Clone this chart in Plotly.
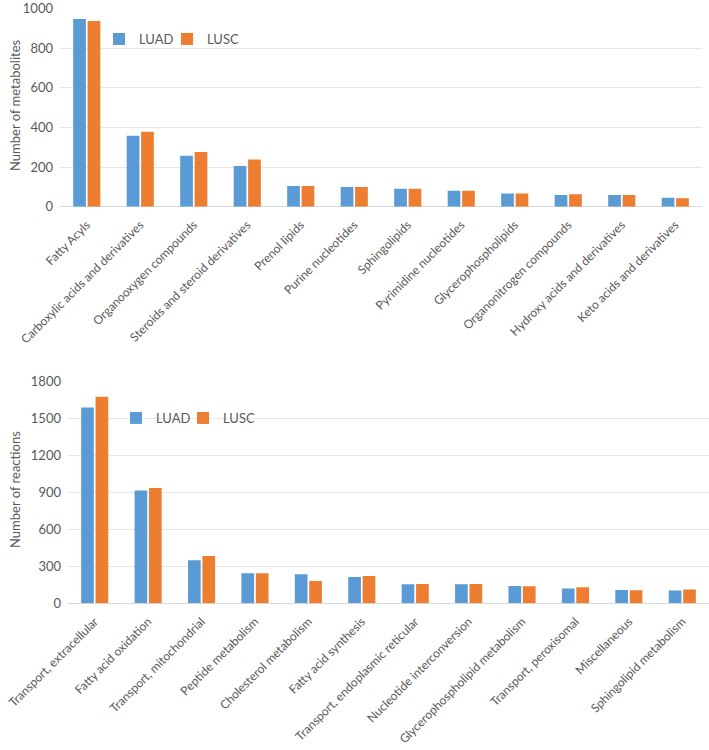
import plotly.graph_objects as go

met_categories = ["Fatty Acyls", "Carboxylic acids and derivatives", "Organooxygen compounds",
                  "Steroids and steroid derivatives", "Prenol lipids", "Purine nucleotides",
                  "Sphingolipids", "Pyrimidine nucleotides", "Glycerophospholipids",
                  "Organonitrogen compounds", "Hydroxy acids and derivatives", "Keto acids and derivatives"]
met_luad = [947, 358, 257, 205, 104, 99, 91, 81, 66, 59, 59, 45]
met_lusc = [937, 378, 276, 238, 104, 99, 90, 80, 66, 63, 59, 43]

rxn_categories = ["Transport, extracellular", "Fatty acid oxidation", "Transport, mitochondrial",
                  "Peptide metabolism", "Cholesterol metabolism", "Fatty acid synthesis",
                  "Transport, endoplasmic reticular", "Nucleotide interconversion",
                  "Glycerophospholipid metabolism", "Transport, peroxisomal", "Miscellaneous",
                  "Sphingolipid metabolism"]
rxn_luad = [1586, 913, 349, 243, 235, 213, 154, 154, 140, 119, 108, 103]
rxn_lusc = [1673, 933, 384, 243, 181, 221, 157, 157, 138, 130, 105, 111]

met_ticks = [0, 200, 400, 600, 800, 1000]
rxn_ticks = [0, 300, 600, 900, 1200, 1500, 1800]

BLUE = "#5B9BD5"
ORANGE = "#ED7D31"
FONT = "Lato"
GRAY = "#595959"
W, H = 709, 750

fig = go.Figure()
fig.add_trace(go.Bar(x=met_categories, y=met_luad, name="LUAD", marker_color=BLUE,
                     marker_line_width=0, xaxis="x", yaxis="y", legend="legend", legendwidth=23))
fig.add_trace(go.Bar(x=met_categories, y=met_lusc, name="LUSC", marker_color=ORANGE,
                     marker_line_width=0, xaxis="x", yaxis="y", legend="legend"))
fig.add_trace(go.Bar(x=rxn_categories, y=rxn_luad, name="LUAD", marker_color=BLUE,
                     marker_line_width=0, xaxis="x2", yaxis="y2", legend="legend2", legendwidth=22))
fig.add_trace(go.Bar(x=rxn_categories, y=rxn_lusc, name="LUSC", marker_color=ORANGE,
                     marker_line_width=0, xaxis="x2", yaxis="y2", legend="legend2"))

def py(p):
    return 1 - p / H

xaxis_common = dict(showline=False, ticks="", tickangle=-45, showgrid=False, automargin=False,
                    ticklabelstandoff=8, tickfont=dict(family=FONT, size=12, color=GRAY))
yaxis_common = dict(showline=False, ticks="", showgrid=True, gridcolor="#E6E6E6", gridwidth=1,
                    zeroline=True, zerolinecolor="#D9D9D9", zerolinewidth=1, automargin=False,
                    ticklabelstandoff=6, ticklabeloverflow="allow",
                    tickfont=dict(family=FONT, size=13, color=GRAY))

legend_common = dict(orientation="h", xanchor="left", yanchor="middle",
                     font=dict(family=FONT, size=13, color=GRAY), itemwidth=30,
                     bgcolor="rgba(0,0,0,0)")

fig.update_layout(
    width=W, height=H, autosize=False,
    margin=dict(l=0, r=0, t=0, b=0),
    paper_bgcolor="white", plot_bgcolor="white",
    barmode="group", bargap=0.46, bargroupgap=0.12,
    font=dict(family=FONT, color=GRAY),
    xaxis=dict(domain=[60 / W, 702 / W], anchor="y", **xaxis_common),
    yaxis=dict(domain=[py(206.7), py(8.5)], anchor="x", range=[0, 1000], tickvals=met_ticks,
               **yaxis_common),
    xaxis2=dict(domain=[68 / W, 709 / W], anchor="y2", **xaxis_common),
    yaxis2=dict(domain=[py(603.3), py(381)], anchor="x2", range=[0, 1800], tickvals=rxn_ticks,
                **yaxis_common),
    legend=dict(x=99 / W, y=py(39), **legend_common),
    legend2=dict(x=116 / W, y=py(418), **legend_common),
    annotations=[
        dict(text="Number of metabolites", xref="paper", yref="paper", x=15 / W, y=py(105),
             xanchor="center", yanchor="middle", textangle=-90, showarrow=False,
             font=dict(family=FONT, size=13, color=GRAY)),
        dict(text="Number of reactions", xref="paper", yref="paper", x=15 / W, y=py(490),
             xanchor="center", yanchor="middle", textangle=-90, showarrow=False,
             font=dict(family=FONT, size=13, color=GRAY)),
    ],
)

fig.write_html("out.html", config={"displayModeBar": False},
               post_script="document.body.style.margin='0px';document.body.style.padding='0px';")
